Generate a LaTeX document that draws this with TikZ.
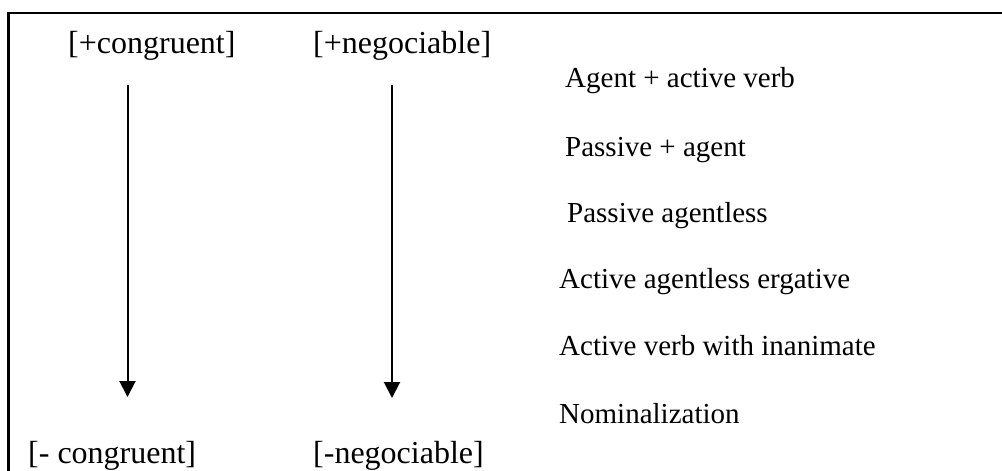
\documentclass[tikz,border=0pt]{standalone}
\usepackage{fontspec}
\setmainfont{Liberation Serif}
\usetikzlibrary{arrows.meta}
\begin{document}
\begin{tikzpicture}[x=1pt,y=-1pt,
  label/.style={anchor=base west,inner sep=0pt,font=\fontsize{29pt}{34pt}\selectfont},
  polelabel/.style={label,font=\fontsize{32pt}{38pt}\selectfont},
  frameline/.style={line width=2.5pt,line cap=rect},
  downarrow/.style={line width=2pt,-{Triangle[width=16pt,length=16pt]}}]
\useasboundingbox (0,0) rectangle (1002,471);
% open frame: top and left edges
\coordinate (fl) at (8.5,471);
\coordinate (tl) at (8.5,13);
\coordinate (tr) at (1002,13);
\draw[frameline] (fl) -- (tl) -- (tr);
% poles of the two scales
\node[polelabel] (cg) at (68,53) {[+congruent]};
\node[polelabel] (ng) at (313,53) {[+negociable]};
\node[polelabel] (mcg) at (28,463) {[- congruent]};
\node[polelabel] (mng) at (313,463) {[-negociable]};
% list of realisations
\node[label] (r1) at (565,87) {Agent + active verb};
\node[label] (r2) at (565,156) {Passive + agent};
\node[label] (r3) at (567,222) {Passive agentless};
\node[label] (r4) at (559,288) {Active agentless ergative};
\node[label] (r5) at (559,355) {Active verb with inanimate};
\node[label] (r6) at (559,423) {Nominalization};
% arrows
\coordinate (a1s) at (127.5,85);
\coordinate (a1e) at (127.5,397);
\coordinate (a2s) at (392,85);
\coordinate (a2e) at (392,398);
\draw[downarrow] (a1s) -- (a1e);
\draw[downarrow] (a2s) -- (a2e);
\end{tikzpicture}
\end{document}
